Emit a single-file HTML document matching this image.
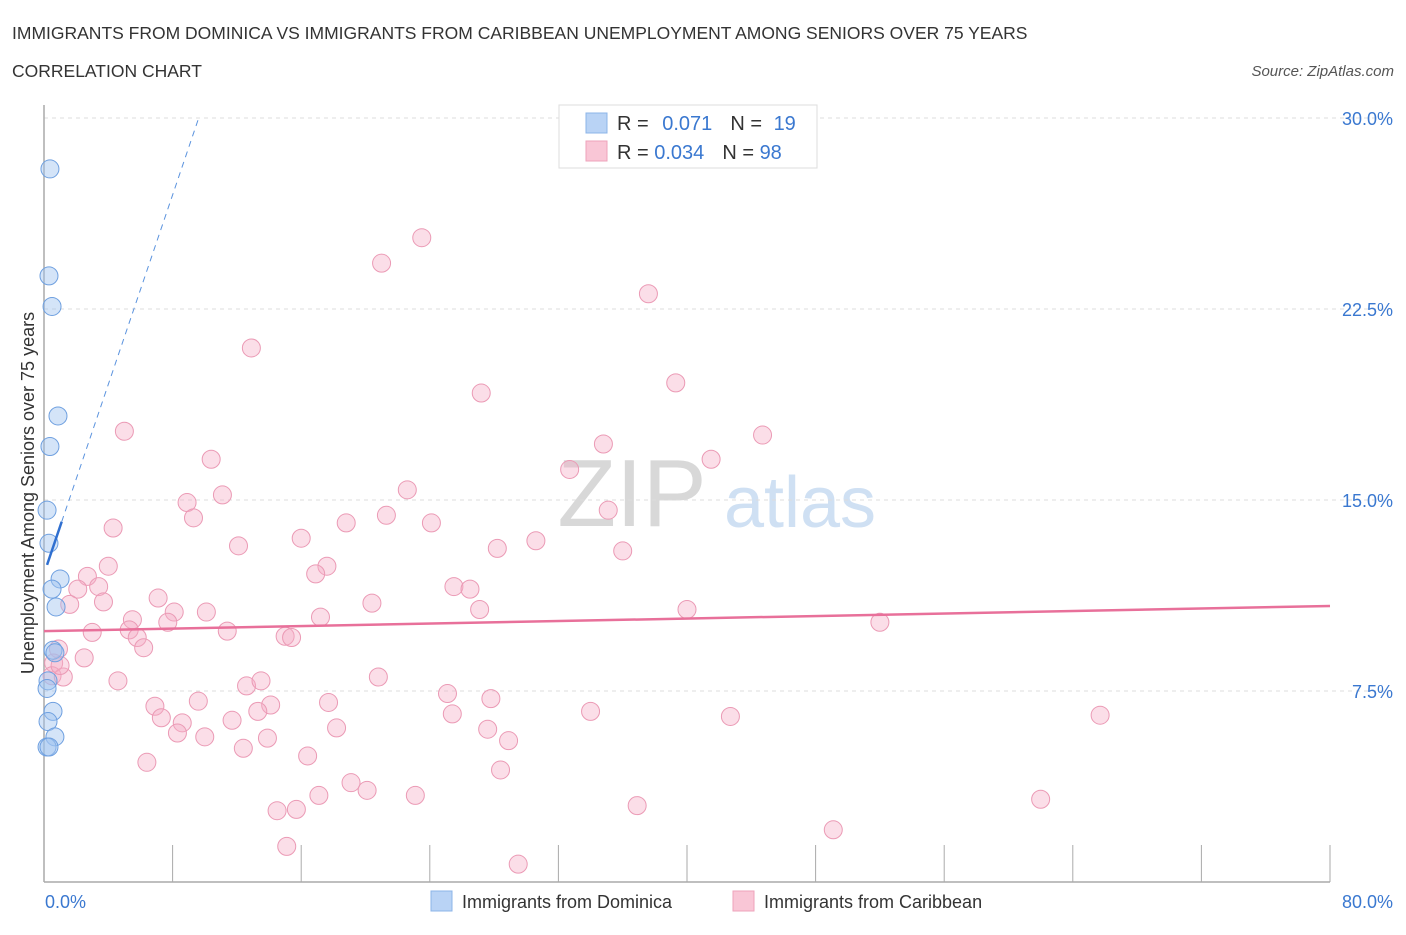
<!DOCTYPE html>
<html><head><meta charset="utf-8"><style>
body{margin:0;background:#fff;font-family:"Liberation Sans",sans-serif;}
svg text{font-family:"Liberation Sans",sans-serif;}
</style></head><body>
<svg width="1406" height="930" viewBox="0 0 1406 930">
<text x="12" y="39" font-size="17.5" fill="#333">IMMIGRANTS FROM DOMINICA VS IMMIGRANTS FROM CARIBBEAN UNEMPLOYMENT AMONG SENIORS OVER 75 YEARS</text>
<text x="12" y="77" font-size="17.5" fill="#333">CORRELATION CHART</text>
<text x="1394" y="76" font-size="15" fill="#555" font-style="italic" text-anchor="end">Source: ZipAtlas.com</text>
<g>
<text x="632" y="526" font-size="96" fill="#d8d8d8" font-family="Liberation Serif" text-anchor="middle">ZIP</text>
<text x="800" y="527" font-size="72" fill="#cfe0f3" text-anchor="middle">atlas</text>
</g>
<g id="grid"></g>
<g id="axes"></g>
<g id="marks"></g>
<text transform="translate(34,493) rotate(-90)" font-size="18" fill="#333" text-anchor="middle">Unemployment Among Seniors over 75 years</text>
<g>
<rect x="559" y="105" width="258" height="63" fill="#fff" stroke="#ddd"/>
<rect x="586" y="113" width="21" height="20" fill="#b9d3f5" stroke="#8cb4e8"/>
<rect x="586" y="141" width="21" height="20" fill="#f9c6d6" stroke="#eea3bb"/>
<text x="617" y="130" font-size="20" fill="#333">R = <tspan fill="#3a78d0" dx="8">0.071</tspan><tspan dx="18" fill="#333">N = </tspan><tspan fill="#3a78d0" dx="6">19</tspan></text>
<text x="617" y="159" font-size="20" fill="#333">R = <tspan fill="#3a78d0">0.034</tspan><tspan dx="18" fill="#333">N = </tspan><tspan fill="#3a78d0">98</tspan></text>
</g>
<g>
<rect x="431" y="891" width="21" height="20" fill="#b9d3f5" stroke="#8cb4e8"/>
<text x="462" y="908" font-size="18" fill="#333">Immigrants from Dominica</text>
<rect x="733" y="891" width="21" height="20" fill="#f9c6d6" stroke="#eea3bb"/>
<text x="764" y="908" font-size="18" fill="#333">Immigrants from Caribbean</text>
</g>
</svg>
<script>
const blueX=[0.37,0.31,0.5,0.87,0.37,0.19,0.31,1.0,0.5,0.75,0.56,0.68,0.25,0.19,0.56,0.25,0.68,0.19,0.31];
const blueY=[28.0,23.8,22.6,18.3,17.1,14.6,13.3,11.9,11.5,10.8,9.1,9.0,7.9,7.6,6.7,6.3,5.7,5.3,5.3];
const pinkX=[23.5,21.0,37.6,12.9,39.3,27.2,5.0,44.7,34.8,10.4,41.5,32.7,8.9,11.1,22.6,35.1,9.3,4.3,21.3,18.8,24.1,16.0,30.6,12.1,28.2,36.0,4.0,17.6,2.7,16.9,25.5,26.5,3.4,2.1,3.7,7.1,20.4,1.6,8.1,10.1,27.1,40.0,17.2,5.5,7.7,52.0,3.0,5.3,11.4,5.8,15.0,15.4,6.2,0.9,0.6,2.5,0.5,1.2,4.6,12.6,13.5,20.8,9.6,6.9,14.1,17.7,25.1,27.8,7.3,8.6,13.3,11.7,34.0,42.7,25.4,65.7,8.3,10.0,18.2,27.6,13.9,12.4,28.9,16.4,6.4,28.4,19.1,20.1,17.1,23.1,14.5,15.7,36.9,62.0,49.1,15.1,29.5,1.0];
const pinkY=[25.3,24.3,23.1,20.97,19.6,19.2,17.7,17.55,17.2,16.6,16.6,16.2,14.9,15.2,15.4,14.6,14.3,13.9,14.4,14.1,14.1,13.5,13.4,13.2,13.1,13.0,12.4,12.4,12.0,12.1,11.6,11.5,11.6,11.5,11.0,11.15,10.95,10.9,10.6,10.6,10.7,10.7,10.4,10.3,10.2,10.2,9.8,9.9,9.85,9.6,9.65,9.6,9.2,9.15,8.6,8.8,8.1,8.05,7.9,7.7,7.9,8.05,7.1,6.9,6.95,7.05,7.4,7.2,6.45,6.25,6.7,6.35,6.7,6.5,6.6,6.55,5.85,5.7,6.05,6.0,5.65,5.25,5.55,4.95,4.7,4.4,3.9,3.6,3.4,3.4,2.8,2.85,3.0,3.25,2.05,1.4,0.7,8.5];
const yTicks=[7.5,15.0,22.5,30.0];
const xTickLabels=["0.0%","80.0%"];
const pinkTrend=[9.85,10.84];
const blueTrend=[12.1,1.86];
const NS="http://www.w3.org/2000/svg";
const X0=44,X1=1330,Y0=882,Y1=118;
function sx(v){return X0+(v/80)*(X1-X0);}
function sy(v){return Y0-(v/30)*(Y0-Y1);}
function mk(tag,attrs,parent){const e=document.createElementNS(NS,tag);for(const k in attrs)e.setAttribute(k,attrs[k]);parent.appendChild(e);return e;}
const grid=document.getElementById('grid'),axes=document.getElementById('axes'),marks=document.getElementById('marks');
yTicks.forEach(t=>{
 const l=mk('line',{x1:44,x2:1390,y1:sy(t),y2:sy(t),stroke:'#ddd','stroke-dasharray':'4,4'},grid);
 
 
 const tx=mk('text',{x:1393,y:sy(t)+7,'font-size':18,fill:'#3a78d0','text-anchor':'end'},grid);
 tx.textContent=t.toFixed(1)+'%';
 
 
});
const ya=mk('line',{x1:44,x2:44,y1:105,y2:882,stroke:'#aaa','stroke-width':1.5},axes);


const xa=mk('line',{x1:44,x2:1330,y1:882,y2:882,stroke:'#aaa','stroke-width':1.5},axes);


for(let i=0;i<=10;i++){
 const t=mk('line',{x1:sx(i*8),x2:sx(i*8),y1:845,y2:882,stroke:'#aaa'},axes);
 
 
}
const xl0=mk('text',{x:45,y:908,'font-size':18,fill:'#3a78d0'},axes);xl0.textContent=xTickLabels[0];


const xl1=mk('text',{x:1393,y:908,'font-size':18,fill:'#3a78d0','text-anchor':'end'},axes);xl1.textContent=xTickLabels[1];


pinkX.forEach((x,i)=>{
 const c=mk('circle',{cx:sx(x),cy:sy(pinkY[i]),r:9,fill:'rgba(246,172,197,0.4)',stroke:'#eb9ab5','stroke-width':1},marks);
 
 
});
blueX.forEach((x,i)=>{
 const c=mk('circle',{cx:sx(x),cy:sy(blueY[i]),r:9,fill:'rgba(160,195,240,0.45)',stroke:'#6fa0e0','stroke-width':1},marks);
 
 
});
const pt=mk('line',{x1:sx(0),y1:sy(pinkTrend[0]),x2:sx(80),y2:sy(pinkTrend[1]),stroke:'#e8709a','stroke-width':2.5},marks);


const bxEnd=(30-blueTrend[0])/blueTrend[1];
const bd=mk('line',{x1:sx(1.1),y1:sy(blueTrend[0]+blueTrend[1]*1.1),x2:sx(bxEnd),y2:sy(30),stroke:'#5b93de','stroke-width':1,'stroke-dasharray':'6,5'},marks);


const bs=mk('line',{x1:sx(0.19),y1:sy(blueTrend[0]+blueTrend[1]*0.19),x2:sx(1.1),y2:sy(blueTrend[0]+blueTrend[1]*1.1),stroke:'#2f6fd0','stroke-width':2.5},marks);


</script>
</body></html>
